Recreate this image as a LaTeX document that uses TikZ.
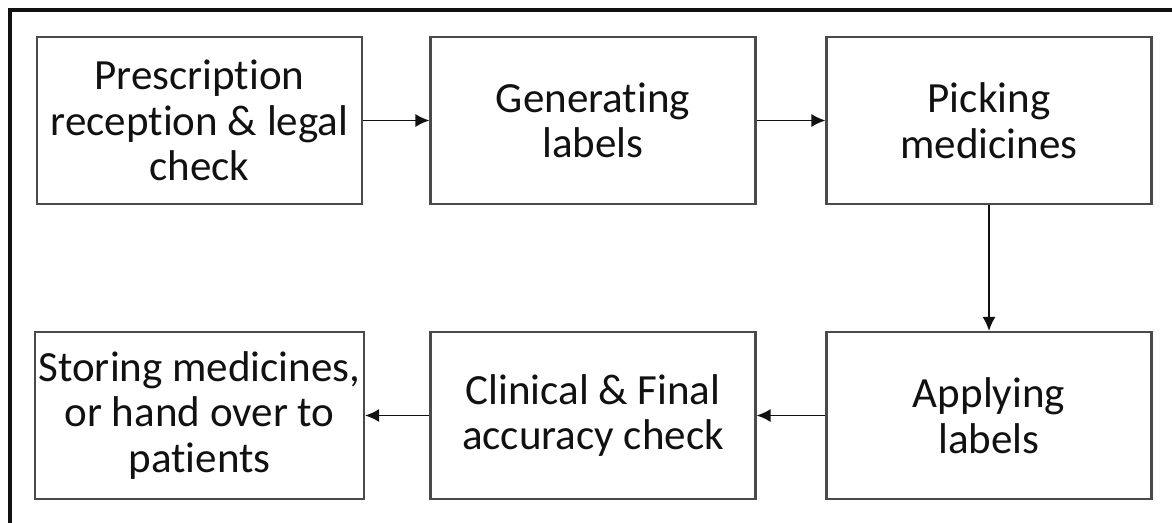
\documentclass[tikz,border=0pt]{standalone}
\usepackage{fontspec}
\setmainfont{Carlito}[Ligatures={NoCommon,NoRare,NoDiscretionary}]
\usepackage{tikz}
\usetikzlibrary{arrows.meta}
\definecolor{boxline}{HTML}{4A4A4A}
\definecolor{ink}{HTML}{111111}
\tikzset{
  frame/.style={draw=ink, line width=2pt},
  stepbox/.style={draw=boxline, line width=1.2pt, fill=white, minimum width=6.5cm,
    minimum height=3.34cm, align=center, inner sep=2pt, text=ink,
    font=\fontsize{24.5}{26}\selectfont},
  flow/.style={draw=ink, line width=1pt, -{Latex[length=0.28cm,width=0.26cm]}}
}
\begin{document}
\begin{tikzpicture}[x=0.02cm,y=-0.02cm]
  \useasboundingbox (0,0) rectangle (1172,523);
  \fill[white] (0,0) rectangle (1172,523);
  \draw[frame] (10,523) -- (10,10) -- (1172,10);

  % top row
  \node[stepbox] (recv) at (199.5,120.5) {Prescription\\reception \& legal\\check};
  \node[stepbox] (gen)  at (593,120.5) {Generating\\labels};
  \node[stepbox] (pick) at (989,120.5) {Picking\\medicines};

  % bottom row
  \node[stepbox] (apply) at (989,415.5) {Applying\\labels};
  \node[stepbox] (final) at (593,415.5) {Clinical \& Final\\accuracy check};
  \node[stepbox] (store) at (199.5,415.5) {Storing medicines,\\or hand over to\\patients};

  \draw[flow] (recv) -- (gen);
  \draw[flow] (gen) -- (pick);
  \draw[flow] (pick) -- (apply);
  \draw[flow] (apply) -- (final);
  \draw[flow] (final) -- (store);
\end{tikzpicture}
\end{document}
